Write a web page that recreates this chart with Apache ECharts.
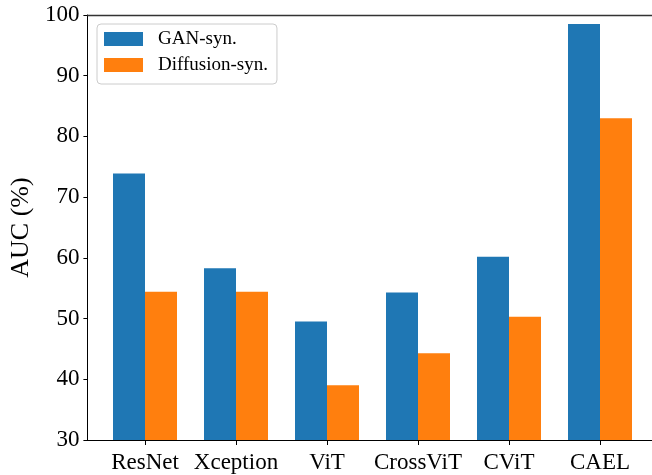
<!DOCTYPE html>
<html>
<head>
<meta charset="utf-8">
<script src="https://cdn.jsdelivr.net/npm/echarts@6/dist/echarts.min.js"></script>
<style>
html,body{margin:0;padding:0;background:#fff;}
#chart{width:652px;height:475px;}
</style>
</head>
<body>
<div id="chart"></div>
<script>
const categories = ['ResNet', 'Xception', 'ViT', 'CrossViT', 'CViT', 'CAEL'];
const ganSyn = [73.9, 58.3, 49.5, 54.3, 60.2, 98.5];
const diffusionSyn = [54.4, 54.4, 39.0, 44.3, 50.3, 83.0];
const seriesNames = ['GAN-syn.', 'Diffusion-syn.'];
const yTicks = {min: 30, max: 100, interval: 10};

const serif = '"Liberation Serif", "Times New Roman", serif';
const chart = echarts.init(document.getElementById('chart'), null, {renderer: 'canvas'});
const option = {
  animation: false,
  backgroundColor: '#ffffff',
  grid: [
    {left: 87, right: -6, top: 15, bottom: 35, containLabel: false},
    {left: 99.5, width: 546, top: 15, bottom: 35, containLabel: false}
  ],
  legend: {
    orient: 'vertical',
    left: 97, top: 24,
    padding: [5, 9, 9, 7],
    itemWidth: 39, itemHeight: 14, itemGap: 6,
    borderColor: '#cccccc', borderWidth: 1, borderRadius: 4,
    backgroundColor: 'rgba(255,255,255,0.8)',
    textStyle: {fontFamily: serif, fontSize: 19, lineHeight: 20, color: '#000', padding: [0, 0, 0, 10]},
    data: seriesNames.map(n => ({name: n, icon: 'rect'}))
  },
  xAxis: [
    {type: 'value', gridIndex: 0, min: 0, max: 1, position: 'bottom',
      axisLine: {show: true, lineStyle: {color: '#000', width: 1}},
      axisTick: {show: false}, axisLabel: {show: false}, splitLine: {show: false}},
    {type: 'value', gridIndex: 0, min: 0, max: 1, position: 'top',
      axisLine: {show: true, lineStyle: {color: '#333', width: 1.3}},
      axisTick: {show: false}, axisLabel: {show: false}, splitLine: {show: false}},
    {type: 'category', gridIndex: 1, data: categories, position: 'bottom',
      axisLine: {show: true, lineStyle: {color: '#000', width: 1}},
      axisTick: {show: true, interval: 0, alignWithLabel: true, length: 5, lineStyle: {color: '#000', width: 1}},
      axisLabel: {interval: 0, fontFamily: serif, fontSize: 23, color: '#000', margin: 11}}
  ],
  yAxis: [
    {type: 'value', gridIndex: 0, min: yTicks.min, max: yTicks.max, interval: yTicks.interval,
      name: 'AUC (%)', nameLocation: 'middle', nameGap: 52,
      nameTextStyle: {fontFamily: serif, fontSize: 26, color: '#000'},
      axisLine: {show: true, lineStyle: {color: '#000', width: 1}},
      axisTick: {show: true, length: 4, lineStyle: {color: '#000'}},
      axisLabel: {fontFamily: serif, fontSize: 23, color: '#000', margin: 8},
      splitLine: {show: false}},
    {type: 'value', gridIndex: 1, min: yTicks.min, max: yTicks.max, interval: yTicks.interval,
      show: false, splitLine: {show: false}}
  ],
  series: [
    {name: seriesNames[0], type: 'bar', xAxisIndex: 2, yAxisIndex: 1, data: ganSyn,
      barWidth: 32, barGap: '0%', itemStyle: {color: '#1f77b4'}},
    {name: seriesNames[1], type: 'bar', xAxisIndex: 2, yAxisIndex: 1, data: diffusionSyn,
      barWidth: 32, barGap: '0%', itemStyle: {color: '#ff7f0e'}}
  ]
};
chart.setOption(option);
</script>
</body>
</html>
